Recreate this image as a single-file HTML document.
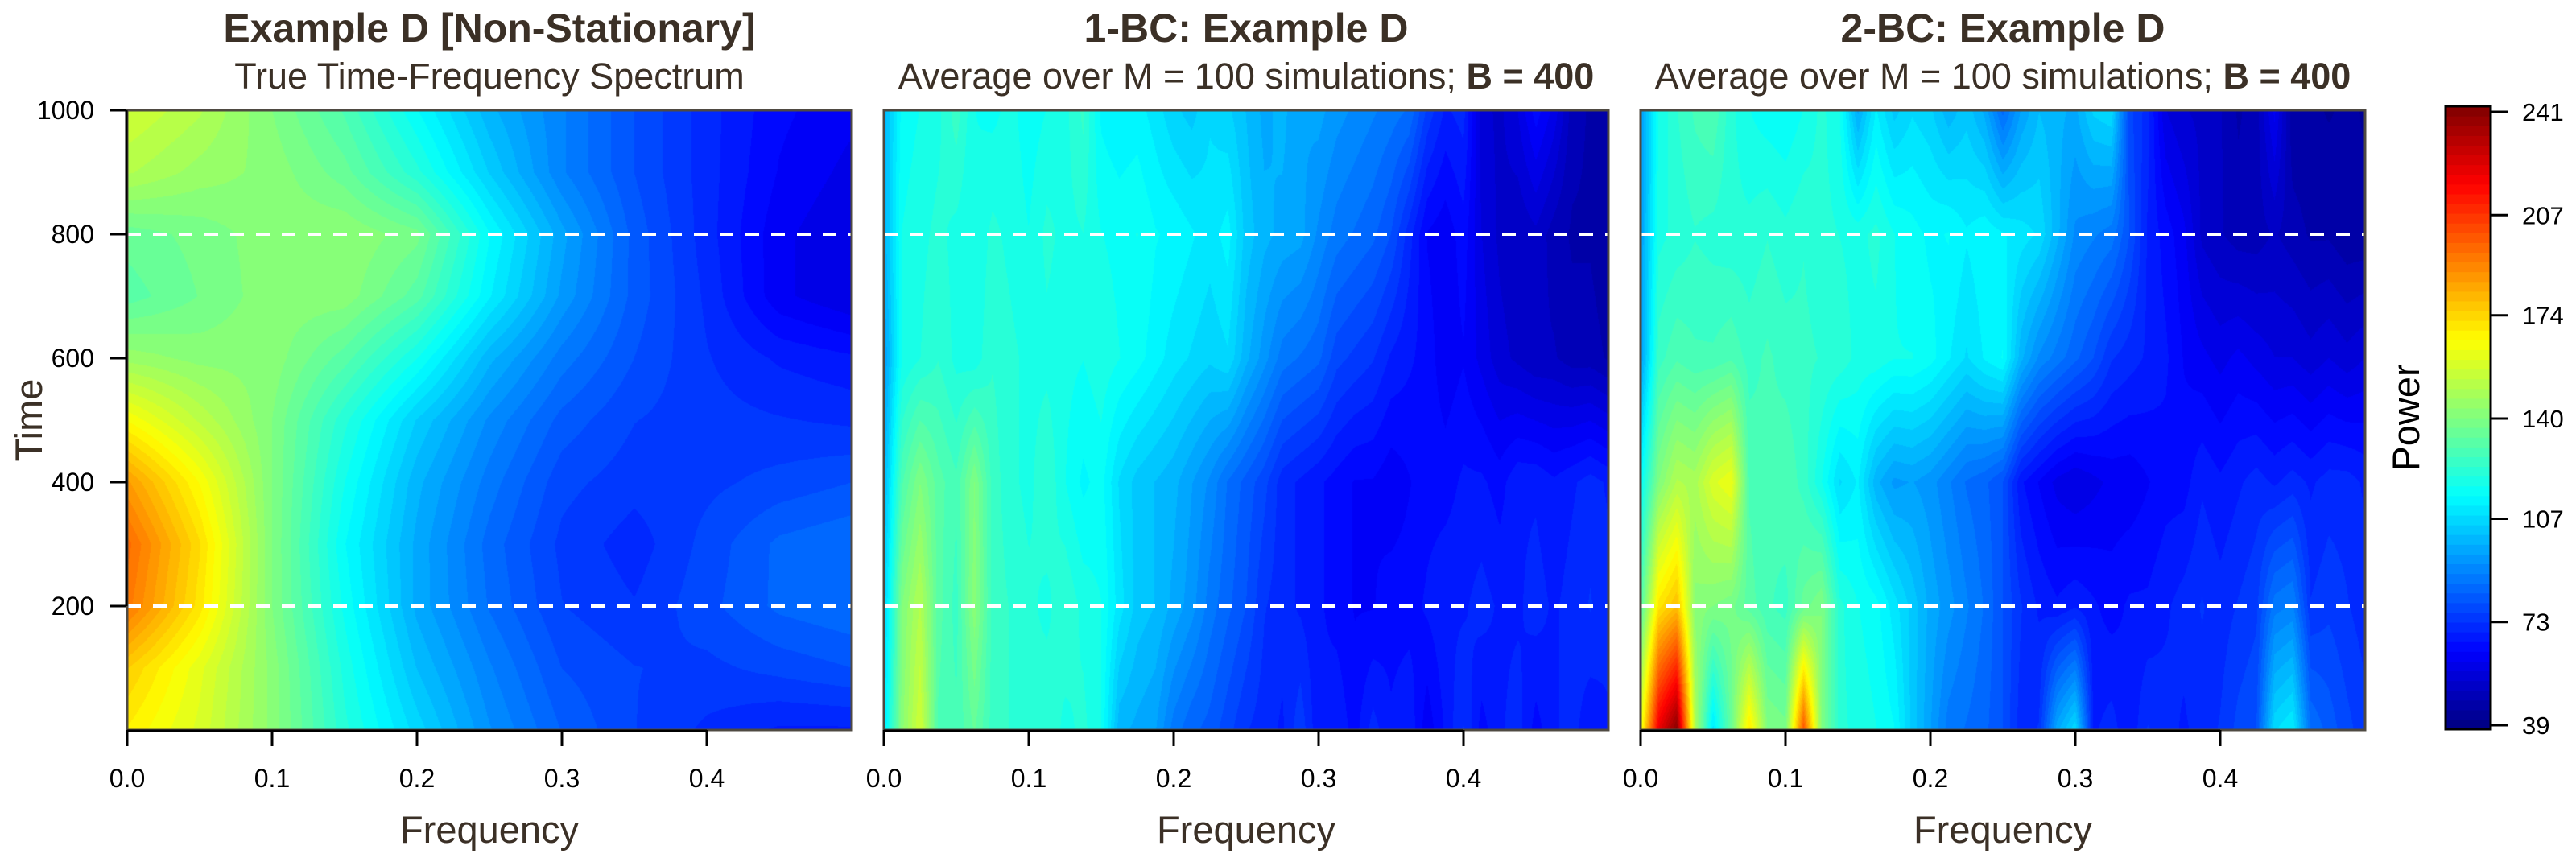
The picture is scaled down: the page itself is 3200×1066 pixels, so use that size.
<!DOCTYPE html>
<html><head><meta charset="utf-8"><style>
html,body{margin:0;padding:0;background:#fff;width:3200px;height:1066px;overflow:hidden;position:relative}
canvas{position:absolute}
svg{position:absolute;left:0;top:0}
text{font-family:"Liberation Sans",Arial,sans-serif}
</style></head><body>
<canvas id="c1" width="900" height="770" style="left:158px;top:137px"></canvas>
<canvas id="c2" width="900" height="770" style="left:1098px;top:137px"></canvas>
<canvas id="c3" width="900" height="770" style="left:2038px;top:137px"></canvas>
<svg id="ov" width="3200" height="1066" xmlns="http://www.w3.org/2000/svg"></svg>
<script>
// ---- data ----
const vmin = 39, vmax = 241;
const cbTicks = [39, 73, 107, 140, 174, 207, 241];
const freqTicks = [0.0, 0.1, 0.2, 0.3, 0.4];
const freqTickLabels = ["0.0", "0.1", "0.2", "0.3", "0.4"];
const timeTicks = [200, 400, 600, 800, 1000];
const dashedTimes = [200, 800];

// Panel 1: true spectrum, freq 0..0.5 step 0.05, time rows 0..1000 step 100
const p1Freqs = [0,0.05,0.1,0.15,0.2,0.25,0.3,0.35,0.4,0.45,0.5];
const p1Times = [0,100,200,300,400,500,600,700,800,900,1000];
const p1Values = [
 [168,158,142,122,107,93,83,77,73,70,70],
 [175,160,142,120,102,90,80,77,76,78,80],
 [192,170,140,117,98,86,77,74,79,84,86],
 [195,172,140,115,98,85,76,72,78,84,86],
 [185,165,140,118,100,88,78,75,76,78,80],
 [165,152,140,122,105,92,82,77,75,74,73],
 [145,142,142,132,118,100,88,80,74,70,68],
 [132,137,142,142,132,112,95,82,73,62,58],
 [135,138,142,143,138,115,97,82,72,62,58],
 [150,145,142,135,122,105,90,80,72,64,60],
 [156,150,140,130,115,100,90,80,72,65,62]
];

// Panels 2 & 3: 41 frequency columns (step 0.0125), time rows 0,200,...,1000
const bcTimes = [0,200,400,600,800,1000];
const p2Values = [
 [110,142,156,130,128,134,126,124,122,124,120,122,118,100,98,96,88,84,82,78,74,72,70,76,68,70,66,72,68,70,62,68,74,66,70,72,66,70,72,68,70],
 [105,140,150,132,126,142,126,124,122,120,124,120,118,110,104,102,98,94,88,84,80,74,72,70,68,66,64,64,66,66,68,70,70,72,70,70,72,70,72,74,72],
 [100,130,140,132,128,140,126,122,120,124,118,114,116,108,104,102,100,96,92,86,82,78,72,70,68,66,64,64,62,64,66,66,68,68,66,70,70,68,70,72,70],
 [95,118,121,124,120,119,124,122,120,120,119,118,120,118,116,113,110,108,106,108,100,94,88,86,84,78,76,74,70,68,66,62,64,60,56,54,52,52,50,50,48],
 [100,118,120,122,120,118,122,120,118,122,120,121,118,117,118,115,114,112,110,113,104,100,98,97,92,88,86,84,80,72,64,62,66,58,54,52,54,50,48,48,46],
 [100,116,118,120,126,118,117,119,116,118,120,125,114,112,113,110,106,104,108,106,102,98,100,96,97,94,92,90,88,86,76,70,72,56,54,58,66,60,50,48,46]
];
const p3Values = [
 [160,220,240,150,110,135,170,140,138,200,140,122,120,118,115,104,96,88,86,84,80,72,74,98,108,70,72,68,74,72,70,72,74,78,80,108,112,86,82,78,75],
 [130,170,178,142,140,138,132,128,126,135,140,122,118,116,110,104,98,94,90,86,80,74,70,68,70,68,66,68,68,70,72,74,72,74,76,88,90,74,76,74,72],
 [115,140,150,148,158,162,130,128,130,126,118,108,112,100,95,96,94,90,86,84,80,68,64,60,58,60,62,62,64,66,66,70,68,70,72,70,72,70,72,72,70],
 [95,126,130,128,128,130,126,128,126,125,124,123,120,120,118,118,116,112,108,112,115,100,92,88,84,80,74,72,70,68,64,62,60,62,60,58,58,56,58,56,58],
 [95,120,122,124,123,122,122,124,122,124,122,121,120,122,118,116,114,115,112,114,112,110,108,100,92,90,88,80,70,66,62,54,52,50,50,52,50,48,48,46,46],
 [95,118,124,128,130,122,118,116,115,118,122,118,98,112,104,108,106,100,104,98,85,96,102,100,98,106,108,78,72,58,55,54,52,48,50,62,46,46,45,46,45]
];

// ---- helpers ----
const PW = 900, PH = 770, PT = 137, PB = 907;
const panelsX = [158, 1098, 2038];
const xScale = (f, x0) => x0 + f / 0.5 * PW;
const yScale = t => PB - t / 1000 * PH;
function jet(v) {
  let t = (v - vmin) / (vmax - vmin);
  t = Math.max(0, Math.min(0.9999, t));
  t = (Math.floor(t * 64) + 0.5) / 64;
  const c = x => Math.round(255 * Math.max(0, Math.min(1, x)));
  return [c(1.5 - Math.abs(4 * t - 3)), c(1.5 - Math.abs(4 * t - 2)), c(1.5 - Math.abs(4 * t - 1))];
}
function interp(arr, grid, x) {
  let i = 0;
  while (i < arr.length - 2 && x > arr[i + 1]) i++;
  const u = Math.max(0, Math.min(1, (x - arr[i]) / (arr[i + 1] - arr[i])));
  return [i, u];
}
function drawHeat(id, freqs, times, vals) {
  const cv = document.getElementById(id), ctx = cv.getContext('2d');
  const img = ctx.createImageData(PW, PH);
  const fi = [];
  for (let x = 0; x < PW; x++) fi.push(interp(freqs, null, (x + 0.5) / PW * 0.5));
  for (let y = 0; y < PH; y++) {
    const t = (PH - y - 0.5) / PH * 1000;
    const [j, w] = interp(times, null, t);
    for (let x = 0; x < PW; x++) {
      const [i, u] = fi[x];
      const v = (1 - w) * ((1 - u) * vals[j][i] + u * vals[j][i + 1]) + w * ((1 - u) * vals[j + 1][i] + u * vals[j + 1][i + 1]);
      const c = jet(v), k = (y * PW + x) * 4;
      img.data[k] = c[0]; img.data[k + 1] = c[1]; img.data[k + 2] = c[2]; img.data[k + 3] = 255;
    }
  }
  ctx.putImageData(img, 0, 0);
}
const bcFreqs = [];
for (let k = 0; k <= 40; k++) bcFreqs.push(k * 0.0125);
drawHeat('c1', p1Freqs, p1Times, p1Values);
drawHeat('c2', bcFreqs, bcTimes, p2Values);
drawHeat('c3', bcFreqs, bcTimes, p3Values);

// ---- overlay ----
const NS = 'http://www.w3.org/2000/svg', ov = document.getElementById('ov');
function mk(tag, attrs, txt) {
  const e = document.createElementNS(NS, tag);
  for (const k in attrs) e.setAttribute(k, attrs[k]);
  if (txt !== undefined) e.textContent = txt;
  ov.appendChild(e); return e;
}
const titles = [["Example D [Non-Stationary]", "True Time-Frequency Spectrum", false],
                ["1-BC: Example D", "Average over M = 100 simulations; ", true],
                ["2-BC: Example D", "Average over M = 100 simulations; ", true]];
panelsX.forEach((x0, p) => {
  const cx = x0 + PW / 2;
  let e = mk('text', {x: cx, y: 52, 'text-anchor': 'middle', 'font-size': 50, 'font-weight': 'bold', fill: '#3b3026'}, titles[p][0]);
  
  
  e = mk('text', {x: cx, y: 110, 'text-anchor': 'middle', 'font-size': 45, fill: '#3b3026'}, titles[p][1]);
  
  
  if (titles[p][2]) {
    const ts = document.createElementNS(NS, 'tspan');
    ts.setAttribute('font-weight', 'bold'); ts.textContent = 'B = 400'; e.appendChild(ts);
  }
  dashedTimes.forEach(t => {
    const l = mk('line', {x1: x0, x2: x0 + PW, y1: yScale(t), y2: yScale(t), stroke: '#fff', 'stroke-width': 4, 'stroke-dasharray': '17 15'});
    
    
  });
  const b = mk('rect', {x: x0, y: PT, width: PW, height: PH, fill: 'none', stroke: '#4f4a42', 'stroke-width': 3});
  
  
  const ax = mk('line', {x1: xScale(freqTicks[0], x0), x2: xScale(freqTicks[freqTicks.length - 1], x0), y1: PB + 1, y2: PB + 1, stroke: '#000', 'stroke-width': 3});
  
  
  freqTicks.forEach((f, i) => {
    const xx = xScale(f, x0);
    mk('line', {x1: xx, x2: xx, y1: PB, y2: PB + 20, stroke: '#000', 'stroke-width': 3});
    const tl = mk('text', {x: xx, y: 978, 'text-anchor': 'middle', 'font-size': 32, fill: '#000'}, freqTickLabels[i]);
    
    
  });
  const xl = mk('text', {x: cx, y: 1047, 'text-anchor': 'middle', 'font-size': 47, fill: '#3b3026'}, 'Frequency');
  
  
});
// y axis panel 1
const ya = mk('line', {x1: 157, x2: 157, y1: yScale(timeTicks[0]), y2: yScale(timeTicks[timeTicks.length - 1]), stroke: '#000', 'stroke-width': 3});


timeTicks.forEach(t => {
  mk('line', {x1: 137, x2: 157, y1: yScale(t), y2: yScale(t), stroke: '#000', 'stroke-width': 3});
  const tl = mk('text', {x: 117, y: yScale(t) + 11, 'text-anchor': 'end', 'font-size': 32, fill: '#000'}, String(t));
  
  
});
const yt = mk('text', {x: 0, y: 0, transform: 'translate(52,522) rotate(-90)', 'text-anchor': 'middle', 'font-size': 47, fill: '#3b3026'}, 'Time');


// colorbar
const cbX = 3038, cbW = 56, cbTop = 132, cbBot = 906;
const cbY = v => 901 - (v - 39) / (241 - 39) * 762;
for (let k = 0; k < 64; k++) {
  const v0 = vmin + k / 64 * (vmax - vmin), v1 = vmin + (k + 1) / 64 * (vmax - vmin);
  const y0 = cbBot - k / 64 * (cbBot - cbTop), y1 = cbBot - (k + 1) / 64 * (cbBot - cbTop);
  const c = jet((v0 + v1) / 2);
  const r = mk('rect', {x: cbX, y: y1, width: cbW, height: y0 - y1 + 0.6, fill: `rgb(${c[0]},${c[1]},${c[2]})`});
  
  
}
const cbb = mk('rect', {x: cbX, y: cbTop, width: cbW, height: cbBot - cbTop, fill: 'none', stroke: '#000', 'stroke-width': 3});


cbTicks.forEach(v => {
  mk('line', {x1: cbX + cbW, x2: 3115, y1: cbY(v), y2: cbY(v), stroke: '#000', 'stroke-width': 3});
  const tl = mk('text', {x: 3133, y: cbY(v) + 11, 'font-size': 31, fill: '#000'}, String(v));
  
  
});
const pw = mk('text', {x: 0, y: 0, transform: 'translate(3005,519) rotate(-90)', 'text-anchor': 'middle', 'font-size': 47, fill: '#000'}, 'Power');


</script>
</body></html>
